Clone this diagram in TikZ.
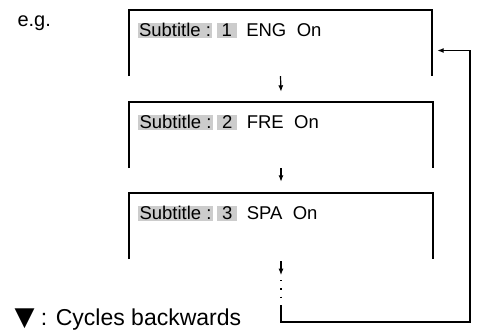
\documentclass[tikz,border=0pt]{standalone}
\usepackage{fontspec}
\setmainfont{Liberation Sans}
\newfontfamily\symfont{DejaVu Sans}
\usetikzlibrary{positioning,arrows.meta}
\begin{document}
\begin{tikzpicture}[x=1pt,y=-1pt,
    screen/.style={minimum width=303pt,minimum height=66pt,inner sep=0pt},
    word/.style={inner sep=0pt,text height=13.5pt,text depth=0.5pt,font=\fontsize{18.5pt}{20pt}\selectfont},
    hl/.style={word,fill=gray!40,inner xsep=1.5pt,inner ysep=0.5pt},
    num/.style={hl,minimum width=20pt},
    arr/.style={line width=1.2pt,-{Latex[length=6.5pt,width=5pt]}}]
\useasboundingbox (0,0) rectangle (479,332);
% three screens, open at the bottom
\node[screen] (s1) at (280.5,43) {};
\node[screen] (s2) at (281,135) {};
\node[screen] (s3) at (281,226) {};
\foreach \i/\lang in {1/ENG,2/FRE,3/SPA} {
  \draw[line width=2pt] (s\i.south west) |- (s\i.north east) -- (s\i.south east);
  \node[hl,anchor=west] (lab\i) at ([shift={(8.5pt,-20.5pt)}]s\i.north west) {Subtitle :};
  \node[num,right=4pt of lab\i] (num\i) {\i};
  \node[word,right=9pt of num\i] (lang\i) {\lang};
  \node[word,right=10pt of lang\i] (on\i) {On};
}
\node[anchor=base west,font=\fontsize{20pt}{22pt}\selectfont] (eg) at (14,27) {e.g.};
\node[anchor=base west,font=\fontsize{23pt}{25pt}\selectfont] (key) at (11,325) {{\symfont\fontsize{26pt}{28pt}\selectfont ▼} : Cycles backwards};
% forward steps
\draw[arr] (s1.south) -- ([yshift=10pt]s2.north);
\draw[arr] (s2.south) -- ([yshift=11pt]s3.north);
\draw[arr] ([yshift=-2pt]s3.south) -- ([yshift=-16pt]s3.south);
\draw[line width=1.2pt,dash pattern=on 1.2pt off 7pt] ([yshift=-21pt]s3.south) -- ([yshift=-40pt]s3.south);
% back to the first screen
\coordinate (ret) at ([yshift=-46pt]s3.south);
\coordinate (far) at (470,322);
\draw[arr] (ret) |- (far) |- ([shift={(5pt,-7.5pt)}]s1.east);
\end{tikzpicture}
\end{document}
